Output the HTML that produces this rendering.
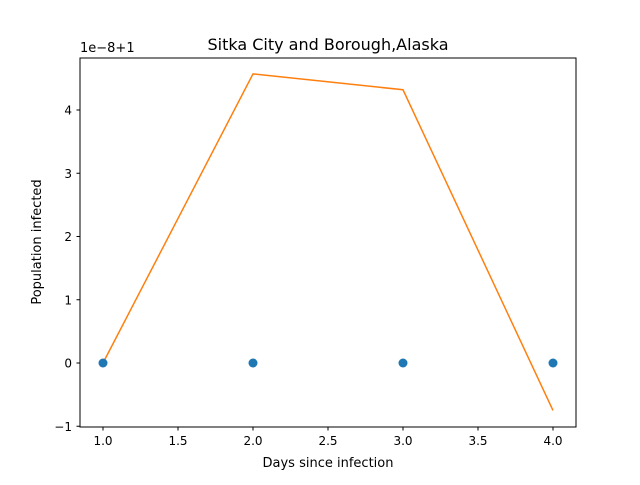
<!DOCTYPE html>
<html><head><meta charset="utf-8"><style>
body{margin:0;background:#fff;}
svg text{font-family:"DejaVu Sans","Liberation Sans",sans-serif;fill:#000;}
</style></head><body>
<svg id="chart" width="640" height="480" viewBox="0 0 640 480">
<rect x="0" y="0" width="640" height="480" fill="#fff"/>
<text x="328" y="50" font-size="16" text-anchor="middle">Sitka City and Borough,Alaska</text>
<text x="328" y="467" font-size="13" text-anchor="middle">Days since infection</text>
<text transform="translate(41,242) rotate(-90)" font-size="13" text-anchor="middle">Population infected</text>
<text x="80" y="52" font-size="13">1e−8+1</text>
<g id="xticks"></g>
<g id="yticks"></g>
<g id="marks"></g>
<rect x="80" y="58" width="496" height="369" fill="none" stroke="#000" stroke-width="1"/>
</svg>
<script>
const days=[1,2,3,4];
const observed=[0,0,0,0];
const fitted=[0,4.57,4.32,-0.75];
const xTicks=[1.0,1.5,2.0,2.5,3.0,3.5,4.0];
const xTickLabels=["1.0","1.5","2.0","2.5","3.0","3.5","4.0"];
const yTicks=[-1,0,1,2,3,4];
const yTickLabels=["−1","0","1","2","3","4"];
const NS="http://www.w3.org/2000/svg";
const X=v=>103+(v-1)*150;
const Y=v=>363-v*63.25;
function mk(tag,attrs,parent){const e=document.createElementNS(NS,tag);for(const k in attrs)e.setAttribute(k,attrs[k]);parent.appendChild(e);return e;}
const xt=document.getElementById('xticks'),yt=document.getElementById('yticks'),m=document.getElementById('marks');
xTicks.forEach((v,i)=>{
 const l=mk('line',{x1:X(v),x2:X(v),y1:427,y2:430.5,stroke:'#000'},xt);
 
 
 const t=mk('text',{x:X(v),y:445,'font-size':12,'text-anchor':'middle'},xt);t.textContent=xTickLabels[i];
 
 
});
yTicks.forEach((v,i)=>{
 const l=mk('line',{x1:76.5,x2:80,y1:Y(v),y2:Y(v),stroke:'#000'},yt);
 
 
 const t=mk('text',{x:72,y:Y(v)+4.5,'font-size':12,'text-anchor':'end'},yt);t.textContent=yTickLabels[i];
 
 
});
const p=mk('polyline',{points:days.map((d,i)=>X(d)+','+Y(fitted[i])).join(' '),fill:'none',stroke:'#ff7f0e','stroke-width':1.5},m);


days.forEach((d,i)=>{
 const c=mk('circle',{cx:X(d),cy:Y(observed[i]),r:4.5,fill:'#1f77b4'},m);
 
 
});
</script>
</body></html>
